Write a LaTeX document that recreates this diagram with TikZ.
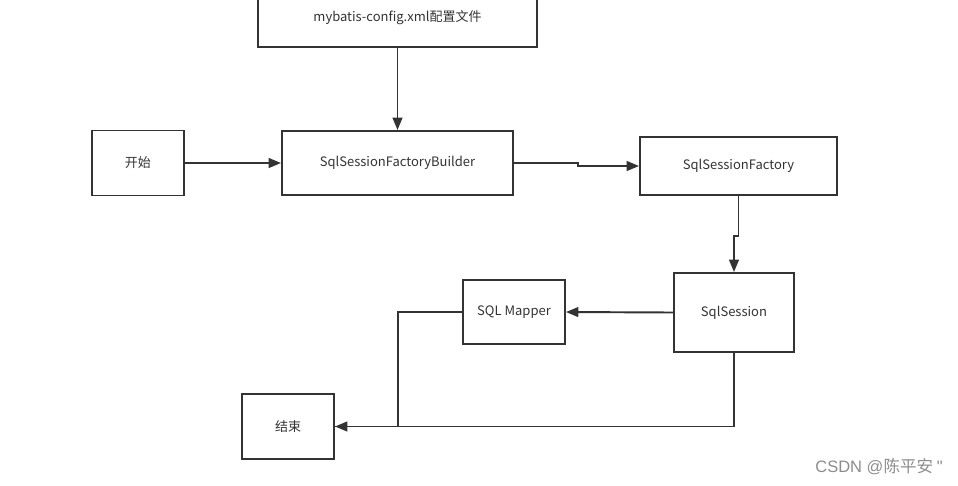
\documentclass[tikz,border=0pt]{standalone}
\usepackage{fontspec}
\setmainfont{Noto Sans CJK SC}
\newfontfamily\markfont{Liberation Sans}
\usetikzlibrary{arrows.meta}
\definecolor{linegray}{HTML}{333333}

\begin{document}
\begin{tikzpicture}[x=0.02cm, y=-0.02cm,
	box/.style={draw=linegray, line width=1.1pt, inner sep=0pt, font=\fontsize{7.4}{9}\selectfont, text=linegray},
	flow/.style={draw=linegray, line width=1.1pt, -{Triangle[length=7pt, width=5.5pt]}},
	line/.style={draw=linegray, line width=1.1pt}]
	%%%%% START %%%%%
	\useasboundingbox (0, 0) rectangle (958, 485);
	
	\node[box, minimum width=279*0.02cm, minimum height=58*0.02cm] (cfg) at (397.5, 18) {mybatis-config.xml配置文件};
	\node[box, minimum width=92*0.02cm, minimum height=65*0.02cm] (start) at (138, 163) {开始};
	\node[box, minimum width=231*0.02cm, minimum height=64*0.02cm] (builder) at (397.5, 163) {SqlSessionFactoryBuilder};
	\node[box, minimum width=197*0.02cm, minimum height=58*0.02cm] (factory) at (738.5, 166) {SqlSessionFactory};
	\node[box, minimum width=120*0.02cm, minimum height=79*0.02cm] (session) at (734, 312.5) {SqlSession};
	\node[box, minimum width=102*0.02cm, minimum height=64*0.02cm] (mapper) at (514, 312) {SQL Mapper};
	\node[box, minimum width=92*0.02cm, minimum height=65*0.02cm] (finish) at (288, 426.5) {结束};
	
	\draw[flow] (cfg.south) -- (builder.north);
	\draw[flow] (start.east) -- (builder.west);
	\draw[flow] (builder.east) -- ++(64, 0) |- (factory.west);
	\draw[flow] (factory.south) -- ++(0, 40) -| (session.north);
	\draw[flow] (session.west) -- (mapper.east);
	\draw[flow] (mapper.west) -- ++(-64, 0) |- (finish.east);
	\draw[line] (session.south) |- (finish.east);
	
	\node[text=black!45, font=\fontsize{9.4}{11}\selectfont] (mark) at (879, 467) {{\markfont CSDN @}陈平安 {\markfont\symbol{34}}};
	
	%%%%% END %%%%%
\end{tikzpicture}
\end{document}
